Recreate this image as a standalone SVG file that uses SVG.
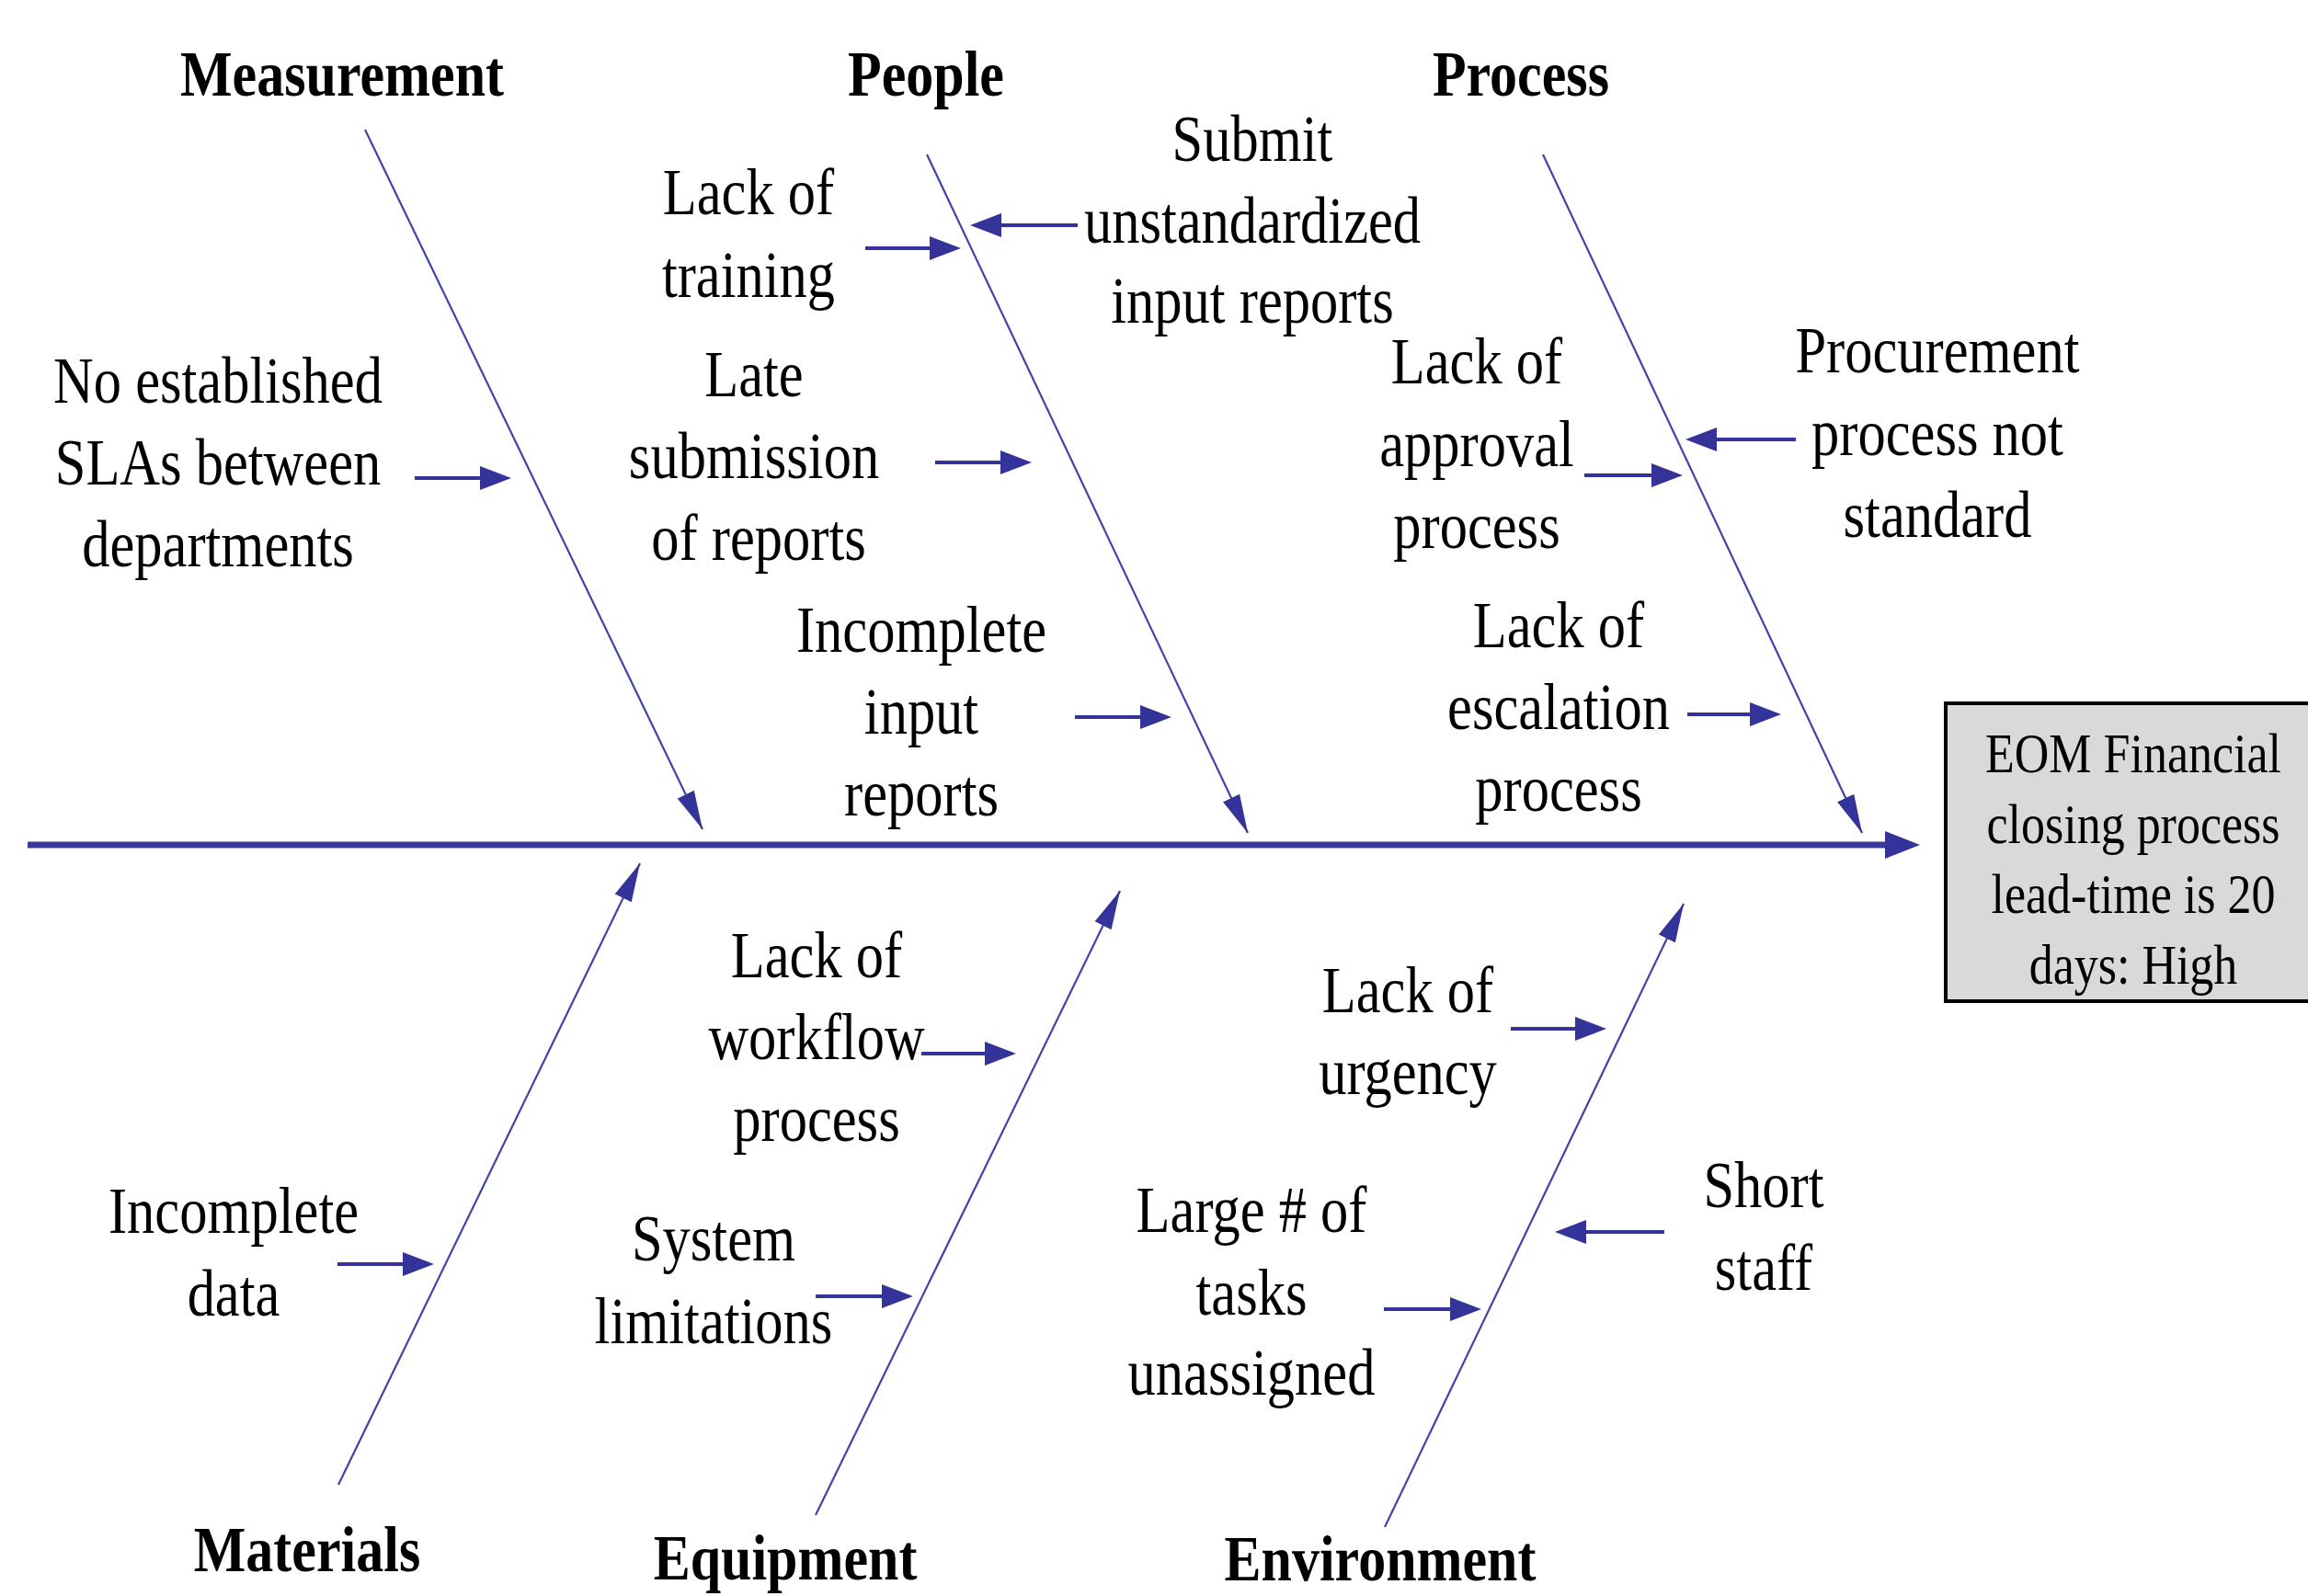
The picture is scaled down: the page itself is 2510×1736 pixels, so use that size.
<svg xmlns="http://www.w3.org/2000/svg" width="2510" height="1736" viewBox="0 0 2510 1736">
<style>
.t{font-family:"Liberation Serif","Times New Roman",serif;font-size:60.5px;text-anchor:middle;fill:#000}
.h{font-family:"Liberation Serif","Times New Roman",serif;font-size:60px;font-weight:bold;text-anchor:middle;fill:#000}
.e{font-family:"Liberation Serif","Times New Roman",serif;font-size:52px;text-anchor:middle;fill:#000}
.bone{stroke:#4343a6;stroke-width:2.2;fill:none;marker-end:url(#mBone)}
.cause{stroke:#333399;stroke-width:4;fill:none;marker-end:url(#mCause)}
.spine{stroke:#3a3a9c;stroke-width:7;fill:none;marker-end:url(#mSpine)}
.box{fill:#d9d9d9;stroke:#000;stroke-width:4}
</style>
<defs>
<marker id="mBone" markerUnits="userSpaceOnUse" viewBox="0 -15 50 30" markerWidth="50" markerHeight="30" refX="42" refY="0" orient="auto"><path d="M0,-10 L42,0 L0,10 Z" fill="#333399"/></marker>
<marker id="mCause" markerUnits="userSpaceOnUse" viewBox="0 -15 40 30" markerWidth="40" markerHeight="30" refX="14" refY="0" orient="auto"><path d="M0,-13 L34,0 L0,13 Z" fill="#333399"/></marker>
<marker id="mSpine" markerUnits="userSpaceOnUse" viewBox="0 -20 44 40" markerWidth="44" markerHeight="40" refX="6" refY="0" orient="auto"><path d="M0,-15 L38,0 L0,15 Z" fill="#333399"/></marker>
</defs>
<rect width="2510" height="1736" fill="#fff"/>

<g id="connectors">
<line class="spine" x1="30" y1="919" x2="2056" y2="919"/>
<line class="bone" x1="397" y1="141" x2="764" y2="902"/>
<line class="bone" x1="1008" y1="168" x2="1357" y2="906"/>
<line class="bone" x1="1678" y1="168" x2="2025" y2="906"/>
<line class="bone" x1="368" y1="1615" x2="696" y2="939"/>
<line class="bone" x1="887" y1="1648" x2="1218" y2="969"/>
<line class="bone" x1="1506" y1="1661" x2="1831" y2="983"/>
<line class="cause" x1="451" y1="520" x2="536" y2="520"/>
<line class="cause" x1="941" y1="270" x2="1025" y2="270"/>
<line class="cause" x1="1172" y1="245" x2="1075" y2="245"/>
<line class="cause" x1="1017" y1="503" x2="1102" y2="503"/>
<line class="cause" x1="1169" y1="780" x2="1254" y2="780"/>
<line class="cause" x1="1723" y1="517" x2="1810" y2="517"/>
<line class="cause" x1="1953" y1="478" x2="1853" y2="478"/>
<line class="cause" x1="1835" y1="777" x2="1917" y2="777"/>
<line class="cause" x1="1002" y1="1146" x2="1085" y2="1146"/>
<line class="cause" x1="887" y1="1410" x2="973" y2="1410"/>
<line class="cause" x1="367" y1="1375" x2="452" y2="1375"/>
<line class="cause" x1="1643" y1="1119" x2="1727" y2="1119"/>
<line class="cause" x1="1505" y1="1424" x2="1591" y2="1424"/>
<line class="cause" x1="1810" y1="1340" x2="1711" y2="1340"/>
</g>

<g id="effect">
<rect class="box" x="2116" y="765" width="420" height="324"/>
<text class="e" transform="translate(2320,840) scale(1,1.16)"><tspan x="0" y="0">EOM Financial</tspan><tspan x="0" y="66.4">closing process</tspan><tspan x="0" y="131.9">lead-time is 20</tspan><tspan x="0" y="198.3">days: High</tspan></text>
</g>

<g id="cat-measurement"><text class="h" transform="translate(372,104) scale(1,1.18)">Measurement</text></g>
<g id="cat-people"><text class="h" transform="translate(1007,104) scale(1,1.18)">People</text></g>
<g id="cat-process"><text class="h" transform="translate(1654,104) scale(1,1.18)">Process</text></g>
<g id="cat-materials"><text class="h" transform="translate(334,1709) scale(1,1.18)">Materials</text></g>
<g id="cat-equipment"><text class="h" transform="translate(854,1718) scale(1,1.18)">Equipment</text></g>
<g id="cat-environment"><text class="h" transform="translate(1501,1719) scale(1,1.18)">Environment</text></g>

<g id="cause-slas"><text class="t" transform="translate(237,438) scale(1,1.18)"><tspan x="0" y="0">No established</tspan><tspan x="0" y="75.4">SLAs between</tspan><tspan x="0" y="150.8">departments</tspan></text></g>
<g id="cause-training"><text class="t" transform="translate(814,233) scale(1,1.18)"><tspan x="0" y="0">Lack of</tspan><tspan x="0" y="76.3">training</tspan></text></g>
<g id="cause-submit"><text class="t" transform="translate(1362,175) scale(1,1.18)"><tspan x="0" y="0">Submit</tspan><tspan x="0" y="75.4">unstandardized</tspan><tspan x="0" y="149.2">input reports</tspan></text></g>
<g id="cause-late"><text class="t" transform="translate(820,431) scale(1,1.18)"><tspan x="0" y="0">Late</tspan><tspan x="0" y="75.4">submission</tspan><tspan x="5" y="150.8">of reports</tspan></text></g>
<g id="cause-incomplete-input"><text class="t" transform="translate(1002,709) scale(1,1.18)"><tspan x="0" y="0">Incomplete</tspan><tspan x="0" y="75.4">input</tspan><tspan x="0" y="150.8">reports</tspan></text></g>
<g id="cause-approval"><text class="t" transform="translate(1606,417) scale(1,1.18)"><tspan x="0" y="0">Lack of</tspan><tspan x="0" y="76.3">approval</tspan><tspan x="0" y="151.7">process</tspan></text></g>
<g id="cause-procurement"><text class="t" transform="translate(2107,405) scale(1,1.18)"><tspan x="0" y="0">Procurement</tspan><tspan x="0" y="76.3">process not</tspan><tspan x="0" y="151.7">standard</tspan></text></g>
<g id="cause-escalation"><text class="t" transform="translate(1695,704) scale(1,1.18)"><tspan x="0" y="0">Lack of</tspan><tspan x="0" y="75.4">escalation</tspan><tspan x="0" y="150.8">process</tspan></text></g>
<g id="cause-workflow"><text class="t" transform="translate(888,1063) scale(1,1.18)"><tspan x="0" y="0">Lack of</tspan><tspan x="0" y="75.4">workflow</tspan><tspan x="0" y="150.8">process</tspan></text></g>
<g id="cause-system"><text class="t" transform="translate(776,1371) scale(1,1.18)"><tspan x="0" y="0">System</tspan><tspan x="0" y="76.3">limitations</tspan></text></g>
<g id="cause-data"><text class="t" transform="translate(254,1341) scale(1,1.18)"><tspan x="0" y="0">Incomplete</tspan><tspan x="0" y="76.3">data</tspan></text></g>
<g id="cause-urgency"><text class="t" transform="translate(1531,1101) scale(1,1.18)"><tspan x="0" y="0">Lack of</tspan><tspan x="0" y="75.4">urgency</tspan></text></g>
<g id="cause-tasks"><text class="t" transform="translate(1361,1340) scale(1,1.18)"><tspan x="0" y="0">Large # of</tspan><tspan x="0" y="76.3">tasks</tspan><tspan x="0" y="150">unassigned</tspan></text></g>
<g id="cause-staff"><text class="t" transform="translate(1918,1313) scale(1,1.18)"><tspan x="0" y="0">Short</tspan><tspan x="0" y="76.3">staff</tspan></text></g>
</svg>
